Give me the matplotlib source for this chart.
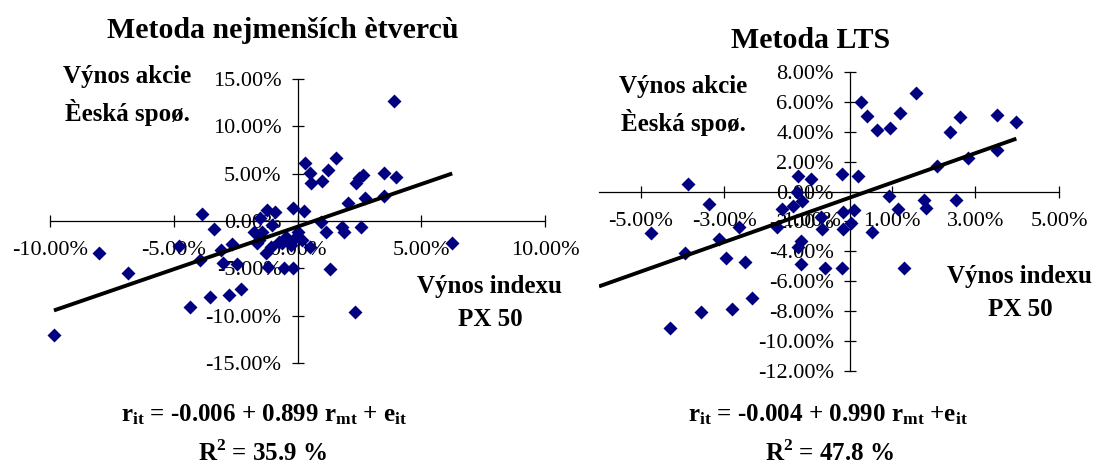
import numpy as np
import matplotlib
matplotlib.use("Agg")
import matplotlib.pyplot as plt
from matplotlib.ticker import FuncFormatter

plt.rcParams['font.family'] = ['Liberation Serif', 'DejaVu Serif']
plt.rcParams['mathtext.fontset'] = 'custom'
plt.rcParams['mathtext.rm'] = 'Liberation Serif'
plt.rcParams['mathtext.bf'] = 'Liberation Serif:bold'

# monthly returns in %
x_ols = [-9.84, -8.01, -6.84, -4.79, -4.33, -3.85, -3.95, -3.52, -3.39, -3.09,
         -3.03, -2.77, -2.66, -2.45, -2.29, -1.76, -1.65, -1.56, -1.52, -1.42,
         -1.22, -1.26, -1.21, -1.09, -1.02, -0.89, -0.75, -0.61, -0.53, -0.48,
         -0.28, -0.20, -0.17, -0.08, 0.01, 0.19, 0.25, 0.32, 0.50, 0.50,
         0.55, 1.00, 0.93, 1.17, 1.24, 1.31, 1.57, 1.80, 1.88, 2.03,
         2.35, 2.32, 2.50, 2.64, 2.57, 2.74, 3.48, 3.48, 3.90, 3.97, 6.25]
y_ols = [-12.06, -3.35, -5.47, -2.61, -9.07, 0.71, -4.13, -8.08, -0.85, -3.07,
         -4.41, -7.83, -2.43, -4.55, -7.23, -1.13, -2.36, -2.00, 0.28, -1.13,
         1.16, -3.42, -4.90, -2.71, -0.42, 0.98, -2.18, -2.36, -5.01, -1.66,
         -2.53, -5.01, 1.34, -1.72, -1.13, -2.00, 1.09, 6.09, 5.03, -2.71,
         3.98, 4.26, -0.07, -1.13, 5.39, -5.11, 6.62, -0.60, -1.13, 1.87,
         3.99, -9.59, 4.51, 4.87, -0.60, 2.47, 5.04, 2.65, 12.63, 4.69, -2.36]

x_lts = [-4.76, -4.30, -3.94, -3.88, -3.56, -3.37, -3.12, -2.96, -2.83, -2.66,
         -2.51, -2.33, -1.74, -1.63, -1.35, -1.26, -1.25, -1.25, -1.16, -1.16,
         -1.15, -0.93, -0.70, -0.66, -0.59, -0.19, -0.19, -0.17, -0.17, 0.02,
         0.10, 0.19, 0.27, 0.42, 0.54, 0.65, 0.93, 0.97, 1.15, 1.20,
         1.30, 1.58, 1.77, 1.81, 2.08, 2.39, 2.54, 2.63, 2.82, 3.51, 3.51, 3.98]
y_lts = [-2.79, -9.12, -4.12, 0.51, -8.03, -0.82, -3.17, -4.41, -7.87, -2.39,
         -4.68, -7.09, -2.39, -1.16, -0.94, -0.04, 1.07, -3.68, -3.28, -4.84,
         -0.60, 0.85, -1.72, -2.50, -5.11, 1.18, -5.11, -1.38, -2.50, -2.12,
         -1.20, 1.03, 6.02, 5.08, -2.68, 4.12, -0.31, 4.26, -1.16, 5.24,
         -5.11, 6.58, -0.54, -1.09, 1.74, 4.01, -0.54, 4.97, 2.25, 5.13, 2.79, 4.68]

# regression coefficients (in %)
b0_ols, b1_ols = -0.6, 0.899
b0_lts, b1_lts = -0.4, 0.990

W, H = 1093, 466
fig = plt.figure(figsize=(W / 100, H / 100), dpi=100)

pct = FuncFormatter(lambda v, p: "%.2f%%" % v)


def panel(rect, x, y, b0, b1, xline, xlim, ylim, xticks, yticks):
    ax = fig.add_axes(rect)
    ax.plot(x, y, 'D', color='#000080', ms=6.9, mec='none', zorder=3, clip_on=False)
    xl = np.array(xline)
    ax.plot(xl, b0 + b1 * xl, color='black', lw=2.8, zorder=4, solid_capstyle='butt')
    ax.set_xlim(xlim)
    ax.set_ylim(ylim)
    ax.set_xticks(xticks)
    ax.set_yticks(yticks)
    ax.xaxis.set_major_formatter(pct)
    ax.yaxis.set_major_formatter(pct)
    ax.spines['left'].set_position(('data', 0))
    ax.spines['bottom'].set_position(('data', 0))
    ax.spines['top'].set_visible(False)
    ax.spines['right'].set_visible(False)
    for s in ('left', 'bottom'):
        ax.spines[s].set_linewidth(0.9)
    ax.tick_params(direction='inout', length=9, width=0.9, labelsize=16)
    ax.tick_params(axis='x', pad=10)
    ax.tick_params(axis='y', pad=7)
    ax.patch.set_alpha(0)
    return ax


panel([50 / W, 1 - 363 / H, 495 / W, 284 / H], x_ols, y_ols, b0_ols, b1_ols,
      [min(x_ols), max(x_ols)], (-10, 10), (-15, 15),
      [-10, -5, 0, 5, 10], [-15, -10, -5, 0, 5, 10, 15])
panel([599 / W, 1 - 371 / H, 460 / W, 299 / H], x_lts, y_lts, b0_lts, b1_lts,
      [-6, max(x_lts)], (-6, 5), (-12, 8),
      [-5, -3, -1, 1, 3, 5], [-12, -10, -8, -6, -4, -2, 0, 2, 4, 6, 8])


def txt(px, py, s, size, **kw):
    fig.text(px / W, 1 - py / H, s, fontsize=size, fontweight='bold',
             ha='center', va='center', **kw)


txt(283, 30, "Metoda nejmenších ètvercù", 21.5)
txt(811, 40, "Metoda LTS", 21.5)

txt(127, 77, "Výnos akcie", 18)
txt(127, 112, "Èeská spoø.", 18)
txt(683, 87, "Výnos akcie", 18)
txt(683, 122, "Èeská spoø.", 18)

txt(489, 287, "Výnos indexu", 18)
txt(490, 320, "PX 50", 18)
txt(1019, 277, "Výnos indexu", 18)
txt(1020, 310, "PX 50", 18)

txt(264, 415, r"$\mathbf{r_{it}}$ = -0.006 + 0.899 $\mathbf{r_{mt}}$ + $\mathbf{e_{it}}$", 18)
txt(263, 453, r"R$^{\mathbf{2}}$ = 35.9 %", 18)
txt(828, 415, r"$\mathbf{r_{it}}$ = -0.004 + 0.990 $\mathbf{r_{mt}}$ +$\mathbf{e_{it}}$", 18)
txt(830, 453, r"R$^{\mathbf{2}}$ = 47.8 %", 18)

fig.savefig("out.png", dpi=100)
